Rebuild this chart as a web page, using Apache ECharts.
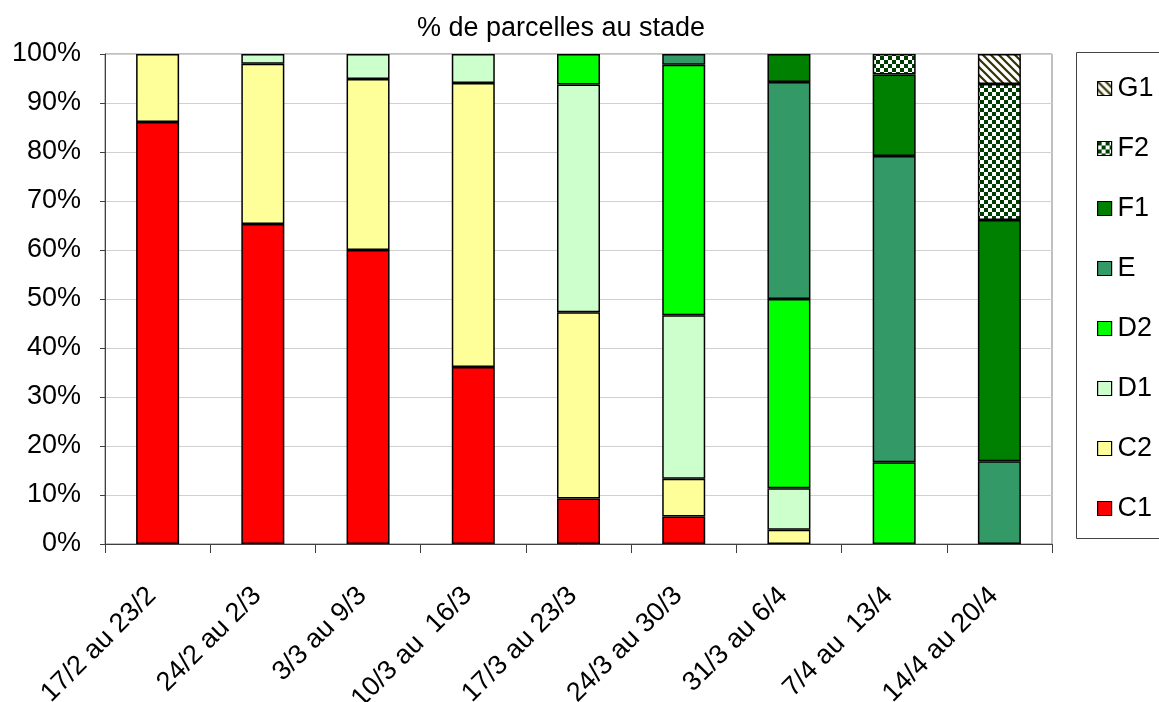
<!DOCTYPE html>
<html>
<head>
<meta charset="utf-8">
<script src="https://cdn.jsdelivr.net/npm/echarts@6/dist/echarts.min.js"></script>
<style>
  html, body { margin: 0; padding: 0; background: #fff; }
  #chart { width: 1159px; height: 702px; }
</style>
</head>
<body>
<div id="chart"></div>
<script>
// Weekly periods
const categories = ['17/2 au 23/2', '24/2 au 2/3', '3/3 au 9/3', '10/3 au  16/3', '17/3 au 23/3',
  '24/3 au 30/3', '31/3 au 6/4', '7/4 au  13/4', '14/4 au 20/4'];

// Share of plots (%) at each growth stage, per week ('-' = none)
const C1 = [86.1, 65.3, 60.0, 36.1, 9.3, 5.6, '-', '-', '-'];
const C2 = [13.9, 32.7, 34.9, 58.0, 38.0, 7.7, 2.9, '-', '-'];
const D1 = ['-', 2.0, 5.1, 5.9, 46.5, 33.4, 8.5, '-', '-'];
const D2 = ['-', '-', '-', '-', 6.2, 51.1, 38.6, 16.7, '-'];
const E  = ['-', '-', '-', '-', '-', 2.2, 44.3, 62.5, 16.9];
const F1 = ['-', '-', '-', '-', '-', '-', 5.7, 16.6, 49.2];
const F2 = ['-', '-', '-', '-', '-', '-', '-', 4.2, 27.8];
const G1 = ['-', '-', '-', '-', '-', '-', '-', '-', 6.1];

const yTicks = [0, 10, 20, 30, 40, 50, 60, 70, 80, 90, 100];

// Checkerboard fill for F2
function checkerPattern() {
  const c = document.createElement('canvas');
  c.width = 8; c.height = 8;
  const g = c.getContext('2d');
  g.fillStyle = '#ffffff'; g.fillRect(0, 0, 8, 8);
  g.fillStyle = '#003d00';
  g.fillRect(0, 0, 4, 4);
  g.fillRect(4, 4, 4, 4);
  return c;
}
// Diagonal stripes for G1
function stripePattern() {
  const c = document.createElement('canvas');
  c.width = 8; c.height = 8;
  const g = c.getContext('2d');
  g.fillStyle = '#ffffff'; g.fillRect(0, 0, 8, 8);
  g.strokeStyle = '#333300';
  g.lineWidth = 2.2;
  g.beginPath();
  g.moveTo(-2, -2); g.lineTo(10, 10);
  g.moveTo(-2, 6); g.lineTo(2, 10);
  g.moveTo(6, -2); g.lineTo(10, 2);
  g.stroke();
  return c;
}

const stages = [
  { name: 'C1', data: C1, color: '#ff0000' },
  { name: 'C2', data: C2, color: '#ffff99' },
  { name: 'D1', data: D1, color: '#ccffcc' },
  { name: 'D2', data: D2, color: '#00ff00' },
  { name: 'E',  data: E,  color: '#339966' },
  { name: 'F1', data: F1, color: '#008000' },
  { name: 'F2', data: F2, color: { image: checkerPattern(), repeat: 'repeat' } },
  { name: 'G1', data: G1, color: { image: stripePattern(), repeat: 'repeat' } }
];

const font = 'Liberation Sans, Arial, sans-serif';

const chart = echarts.init(document.getElementById('chart'), null, { renderer: 'canvas' });
chart.setOption({
  animation: false,
  backgroundColor: '#ffffff',
  title: {
    text: '% de parcelles au stade',
    left: 556, top: 10, textAlign: 'center',
    textStyle: { fontFamily: font, fontSize: 27, fontWeight: 'normal', color: '#000' }
  },
  graphic: [{
    type: 'rect',
    shape: { x: 1076.5, y: 52.5, width: 100, height: 486 },
    style: { fill: 'none', stroke: '#444', lineWidth: 1 },
    silent: true
  }],
  legend: {
    orient: 'vertical',
    left: 1092, top: 70,
    icon: 'rect',
    itemWidth: 14, itemHeight: 14,
    itemGap: 33,
    data: stages.map(s => s.name).reverse(),
    itemStyle: { borderColor: '#000', borderWidth: 1.2 },
    textStyle: { fontFamily: font, fontSize: 27, color: '#000', lineHeight: 27, padding: [0, 0, 0, 1] }
  },
  grid: {
    left: 105, right: 107, top: 54, bottom: 158,
    outerBoundsMode: 'none',
    containLabel: false,
    show: true, borderColor: '#808080', borderWidth: 1
  },
  xAxis: {
    type: 'category',
    data: categories,
    axisLine: { lineStyle: { color: '#404040', width: 1 } },
    axisTick: { show: true, alignWithLabel: false, length: 9, lineStyle: { color: '#404040' } },
    axisLabel: {
      rotate: 45, interval: 0, margin: 42,
      padding: [0, 8, 16, 0],
      fontFamily: font, fontSize: 27, color: '#000'
    }
  },
  yAxis: {
    type: 'value',
    min: 0, max: 100, interval: 10,
    axisLine: { show: true, lineStyle: { color: '#404040', width: 1 } },
    axisTick: { show: true, length: 5, lineStyle: { color: '#404040' } },
    splitLine: { show: true, lineStyle: { color: '#d0d0d0', width: 1 } },
    axisLabel: {
      margin: 24, fontFamily: font, fontSize: 27, color: '#000',
      formatter: v => (yTicks.includes(v) ? v + '%' : '')
    }
  },
  series: stages.map(s => ({
    name: s.name,
    type: 'bar',
    stack: 'stade',
    data: s.data,
    barWidth: 43,
    itemStyle: { color: s.color, borderColor: '#000', borderWidth: 1.5 },
    emphasis: { disabled: true }
  }))
});
</script>
</body>
</html>
